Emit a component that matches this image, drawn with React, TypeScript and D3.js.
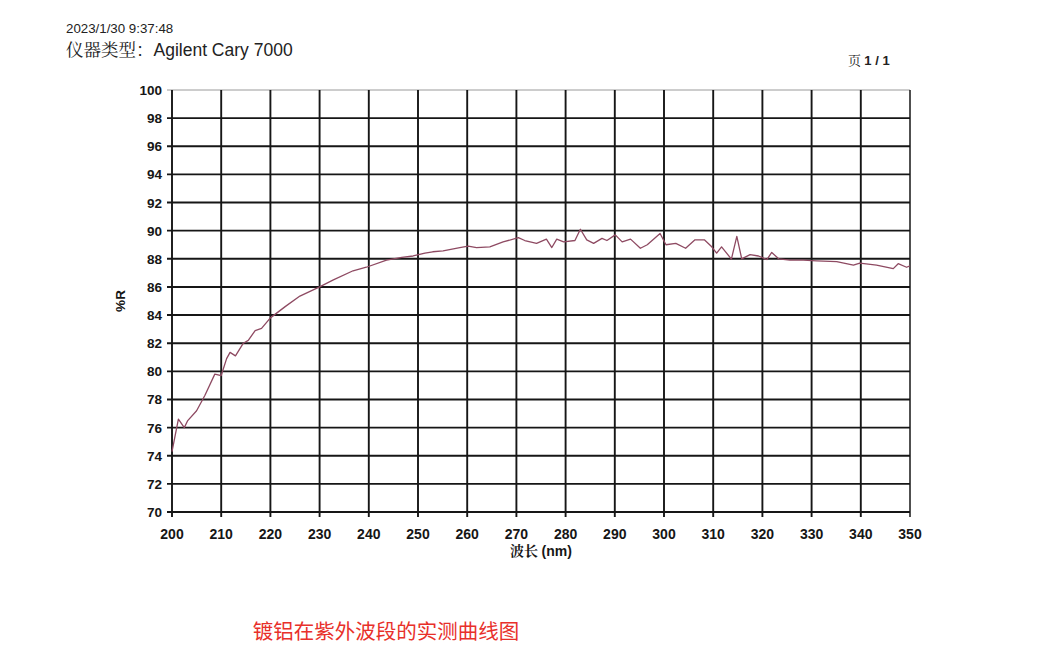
import { useEffect, useRef } from "react"
import * as d3 from "d3"

// wavelength (nm) and reflectance (%R)
const wavelength = [
  200, 201.3, 202.5, 203.2, 205, 206.7, 208.7, 210, 211.1, 211.8, 212.9, 214.5, 215.5, 216.9,
  218.2, 220, 223, 226, 230, 232.8, 236.8, 239.5, 243.6, 246.7, 249, 251.4, 253, 255.1, 258.5,
  260.2, 261.9, 264.6, 267.3, 270.4, 271.7, 274.1, 276.1, 277.2, 278.2, 279.6, 281.9, 283,
  284.3, 285.7, 287.4, 288.4, 290.1, 291.5, 293.2, 295.2, 296.6, 299.2, 300.4, 302.4, 304.4,
  306.3, 308.2, 309.7, 310.7, 311.7, 313.7, 314.8, 315.8, 317.5, 319.2, 320.9, 321.9, 323.3,
  325.6, 328.3, 331, 335.1, 338.5, 339.8, 343.2, 346.6, 347.6, 349.3, 350,
]
const reflectance = [
  74.3, 76.6, 76.0, 76.5, 77.2, 78.3, 79.8, 79.7, 80.9, 81.35, 81.1, 82.0, 82.2, 82.9,
  83.05, 83.8, 84.6, 85.35, 86.0, 86.5, 87.15, 87.4, 87.9, 88.1, 88.2, 88.4, 88.5, 88.57, 88.8,
  88.9, 88.8, 88.85, 89.2, 89.5, 89.3, 89.1, 89.4, 88.8, 89.4, 89.2, 89.3, 90.1,
  89.35, 89.1, 89.45, 89.3, 89.7, 89.2, 89.4, 88.75, 89.0, 89.8, 89.0, 89.1, 88.75,
  89.35, 89.35, 88.85, 88.4, 88.85, 87.98, 89.6, 88.0, 88.3, 88.2, 87.95, 88.45, 88.0,
  87.9, 87.9, 87.85, 87.8, 87.55, 87.7, 87.55, 87.3, 87.65, 87.4, 87.5,
]
const xTicks = d3.range(200, 351, 10)
const yTicks = d3.range(70, 101, 2)

const header = "2023/1/30 9:37:48"
const instrument = "Agilent Cary 7000"
const caption = "镀铝在紫外波段的实测曲线图"

export default function App() {
  const svgRef = useRef<SVGSVGElement>(null)

  useEffect(() => {
    if (!svgRef.current) return
    const width = 1058
    const height = 669
    const svg = d3.select(svgRef.current).attr("width", width).attr("height", height)
    svg.selectAll("*").remove()

    svg.append("rect").attr("width", width).attr("height", height).attr("fill", "#fff")

    const margin = { top: 90, right: 148, bottom: 157, left: 172 }
    const x = d3.scaleLinear().domain([200, 350]).range([margin.left, width - margin.right])
    const y = d3.scaleLinear().domain([70, 100]).range([height - margin.bottom, margin.top])

    const ink = "#161616"
    const font = "Liberation Sans, Arial, sans-serif"
    const serifCjk = "Noto Serif CJK SC, Noto Sans CJK SC, serif"

    // header
    svg
      .append("text")
      .attr("x", 66)
      .attr("y", 33)
      .attr("font-family", font)
      .attr("font-size", 13.3)
      .attr("fill", "#222")
      .text(header)
    const inst = svg
      .append("text")
      .attr("x", 66)
      .attr("y", 56)
      .attr("font-size", 17.5)
      .attr("fill", "#222")
    inst.append("tspan").attr("font-family", serifCjk).text("仪器类型：")
    inst.append("tspan").attr("font-family", font).text(instrument)

    const page = svg
      .append("text")
      .attr("x", 848)
      .attr("y", 65)
      .attr("font-size", 13)
      .attr("fill", "#222")
    page.append("tspan").attr("font-family", serifCjk).text("页 ")
    page.append("tspan").attr("font-family", font).attr("font-weight", "bold").text("1 / 1")

    // grid
    const g = svg.append("g")
    g.selectAll(".hgrid")
      .data(yTicks)
      .enter()
      .append("line")
      .attr("x1", x(200) - 5)
      .attr("x2", x(350))
      .attr("y1", (d) => y(d))
      .attr("y2", (d) => y(d))
      .attr("stroke", (d) => (d === 100 ? "#9a9a9a" : ink))
      .attr("stroke-width", (d) => (d === 100 ? 1 : 1.9))

    g.selectAll(".vgrid")
      .data(xTicks)
      .enter()
      .append("line")
      .attr("x1", (d) => x(d))
      .attr("x2", (d) => x(d))
      .attr("y1", y(100))
      .attr("y2", y(70) + 5)
      .attr("stroke", ink)
      .attr("stroke-width", (d) => (d === 350 ? 1.5 : 1.9))

    // axis labels
    g.selectAll(".ylab")
      .data(yTicks)
      .enter()
      .append("text")
      .attr("x", x(200) - 10)
      .attr("y", (d) => y(d) + 5)
      .attr("text-anchor", "end")
      .attr("font-family", font)
      .attr("font-weight", "bold")
      .attr("font-size", 13.5)
      .attr("fill", ink)
      .text((d) => d)

    g.selectAll(".xlab")
      .data(xTicks)
      .enter()
      .append("text")
      .attr("x", (d) => x(d))
      .attr("y", y(70) + 27)
      .attr("text-anchor", "middle")
      .attr("font-family", font)
      .attr("font-weight", "bold")
      .attr("font-size", 14)
      .attr("fill", ink)
      .text((d) => d)

    svg
      .append("text")
      .attr("transform", `translate(125, ${(y(84) + y(86)) / 2}) rotate(-90)`)
      .attr("text-anchor", "middle")
      .attr("font-family", font)
      .attr("font-weight", "bold")
      .attr("font-size", 13.5)
      .attr("fill", ink)
      .text("%R")

    const xl = svg
      .append("text")
      .attr("x", 541)
      .attr("y", 556)
      .attr("text-anchor", "middle")
      .attr("font-size", 14)
      .attr("font-weight", "bold")
      .attr("fill", ink)
    xl.append("tspan").attr("font-family", serifCjk).text("波长 ")
    xl.append("tspan").attr("font-family", font).text("(nm)")

    // curve
    const pts = wavelength.map((w, i) => [w, reflectance[i]] as [number, number])
    const line = d3
      .line<[number, number]>()
      .x((d) => x(d[0]))
      .y((d) => y(d[1]))
    svg
      .append("path")
      .datum(pts)
      .attr("d", line)
      .attr("fill", "none")
      .attr("stroke", "#8e4a62")
      .attr("stroke-width", 1.3)
      .attr("stroke-linejoin", "round")

    // caption
    svg
      .append("text")
      .attr("x", 386)
      .attr("y", 639)
      .attr("text-anchor", "middle")
      .attr("font-family", "Noto Sans CJK SC, sans-serif")
      .attr("font-size", 20.5)
      .attr("fill", "#e8302a")
      .text(caption)
  }, [])

  return (
    <div style={{ margin: -8 }}>
      <svg ref={svgRef} style={{ display: "block" }} />
    </div>
  )
}
